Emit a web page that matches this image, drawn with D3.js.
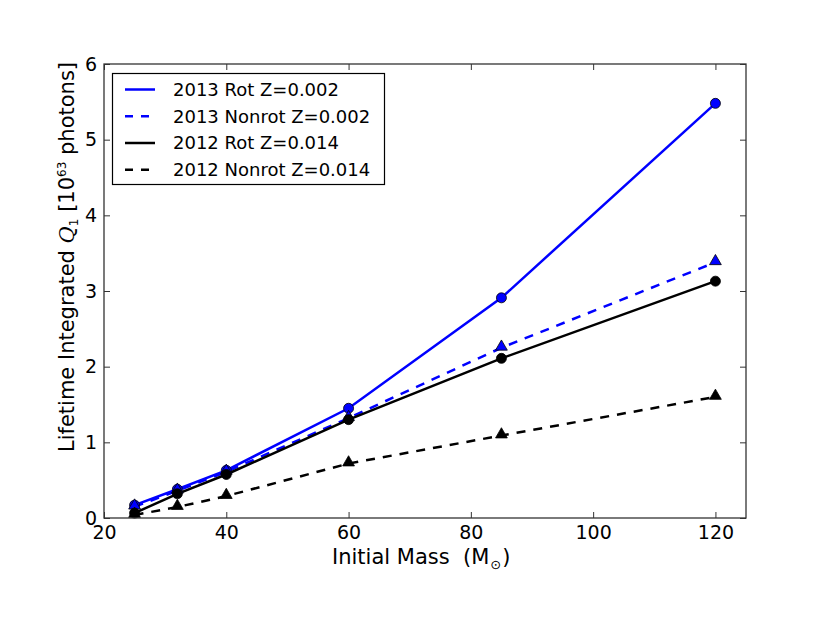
<!DOCTYPE html>
<html>
<head>
<meta charset="utf-8">
<script src="https://cdn.jsdelivr.net/npm/d3@7/dist/d3.min.js"></script>
<style>
  body { margin: 0; background: #fff; }
  svg { display: block; }
  text { font-family: "DejaVu Sans", sans-serif; fill: #000; white-space: pre; }
</style>
</head>
<body>
<div id="chart"></div>
<script>
// ---- data ----
const masses = [25, 32, 40, 60, 85, 120];
const rot2013 = [0.17, 0.38, 0.63, 1.45, 2.91, 5.48];
const nonrot2013 = [0.15, 0.36, 0.61, 1.32, 2.25, 3.38];
const rot2012 = [0.065, 0.32, 0.575, 1.30, 2.11, 3.13];
const nonrot2012 = [0.04, 0.145, 0.29, 0.72, 1.09, 1.60];
const seriesNames = ["2013 Rot Z=0.002", "2013 Nonrot Z=0.002", "2012 Rot Z=0.014", "2012 Nonrot Z=0.014"];
const xTicks = [20, 40, 60, 80, 100, 120];
const yTicks = [0, 1, 2, 3, 4, 5, 6];

const series = [
  { name: seriesNames[0], values: rot2013, color: "#0000ff", dash: null, marker: "circle" },
  { name: seriesNames[1], values: nonrot2013, color: "#0000ff", dash: "9,8", marker: "triangle" },
  { name: seriesNames[2], values: rot2012, color: "#000000", dash: null, marker: "circle" },
  { name: seriesNames[3], values: nonrot2012, color: "#000000", dash: "9,8", marker: "triangle" }
];

const W = 830, H = 624;
const margin = { left: 104, top: 64, right: 84, bottom: 106 };
const iw = W - margin.left - margin.right;
const ih = H - margin.top - margin.bottom;

const svg = d3.select("#chart").append("svg").attr("width", W).attr("height", H);
const g = svg.append("g").attr("transform", `translate(${margin.left},${margin.top})`);

const x = d3.scaleLinear().domain([20, 125]).range([0, iw]);
const y = d3.scaleLinear().domain([0, 6]).range([ih, 0]);

svg.append("defs").append("clipPath").attr("id", "clip")
  .append("rect").attr("width", iw).attr("height", ih);

// axes (inward ticks)
const tickLen = 6;
const fontTick = 19;
const axB = g.append("g").attr("transform", `translate(0,${ih})`)
  .call(d3.axisBottom(x).tickValues(xTicks).tickSize(-tickLen).tickPadding(8).tickFormat(d3.format("d")));
const axL = g.append("g")
  .call(d3.axisLeft(y).tickValues(yTicks).tickSize(-tickLen).tickPadding(7).tickFormat(d3.format("d")));
const axT = g.append("g")
  .call(d3.axisTop(x).tickValues(xTicks).tickSize(-tickLen).tickFormat(""));
const axR = g.append("g").attr("transform", `translate(${iw},0)`)
  .call(d3.axisRight(y).tickValues(yTicks).tickSize(-tickLen).tickFormat(""));
[axB, axL, axT, axR].forEach(a => {
  a.select(".domain").remove();
  a.selectAll(".tick line").attr("stroke", "#333").attr("stroke-width", 1);
  a.selectAll("text").style("font-size", fontTick + "px").attr("fill", "#000");
});

// lines
const line = d3.line().x((d, i) => x(masses[i])).y(d => y(d));
const plot = g.append("g").attr("clip-path", "url(#clip)");
series.forEach(s => {
  plot.append("path").datum(s.values)
    .attr("d", line)
    .attr("fill", "none")
    .attr("stroke", s.color)
    .attr("stroke-width", 2.5)
    .attr("stroke-dasharray", s.dash);
});
// markers
const tri = d3.symbol().type(d3.symbolTriangle).size(60);
series.forEach(s => {
  if (s.marker === "circle") {
    g.append("g").selectAll("circle").data(s.values).join("circle")
      .attr("cx", (d, i) => x(masses[i])).attr("cy", d => y(d))
      .attr("r", 5).attr("fill", s.color).attr("stroke", "#000").attr("stroke-width", 0.8);
  } else {
    g.append("g").selectAll("path").data(s.values).join("path")
      .attr("d", tri)
      .attr("transform", (d, i) => `translate(${x(masses[i])},${y(d) - 1})`)
      .attr("fill", s.color).attr("stroke", "#000").attr("stroke-width", 0.8);
  }
});

// frame
g.append("rect").attr("width", iw).attr("height", ih)
  .attr("fill", "none").attr("stroke", "#333").attr("stroke-width", 1.3);

// legend
const lg = svg.append("g");
lg.append("rect").attr("x", 112.5).attr("y", 73.5).attr("width", 272).attr("height", 111)
  .attr("fill", "#fff").attr("stroke", "#000").attr("stroke-width", 1.2);
const rowY = [89.5, 116.3, 143, 169.8];
series.forEach((s, i) => {
  lg.append("line").attr("x1", 125).attr("x2", 155).attr("y1", rowY[i]).attr("y2", rowY[i])
    .attr("stroke", s.color).attr("stroke-width", 2.5).attr("stroke-dasharray", s.dash ? "8,8" : null);
  lg.append("text").attr("x", 173).attr("y", rowY[i]).attr("dy", "0.36em")
    .style("font-size", "18px").text(s.name);
});

// x label
const xl = svg.append("text").attr("x", 332).attr("y", 564).style("font-size", "21px");
xl.append("tspan").text("Initial Mass  (M");
xl.append("tspan").attr("dx", 1).attr("dy", 5).style("font-size", "13px").text("\u2299");
xl.append("tspan").attr("dx", 1).attr("dy", -5).text(")");

// y label
const yl = svg.append("text")
  .attr("transform", "translate(74,452) rotate(-90)")
  .style("font-size", "21px");
yl.append("tspan").text("Lifetime Integrated ");
yl.append("tspan").style("font-family", "'DejaVu Serif', serif").style("font-style", "italic").text("Q");
yl.append("tspan").attr("dy", 4).style("font-size", "12px").text("1");
yl.append("tspan").attr("dy", -4).text(" [10");
yl.append("tspan").attr("dy", -8).style("font-size", "12px").text("63");
yl.append("tspan").attr("dy", 8).text(" photons]");
</script>
</body>
</html>
